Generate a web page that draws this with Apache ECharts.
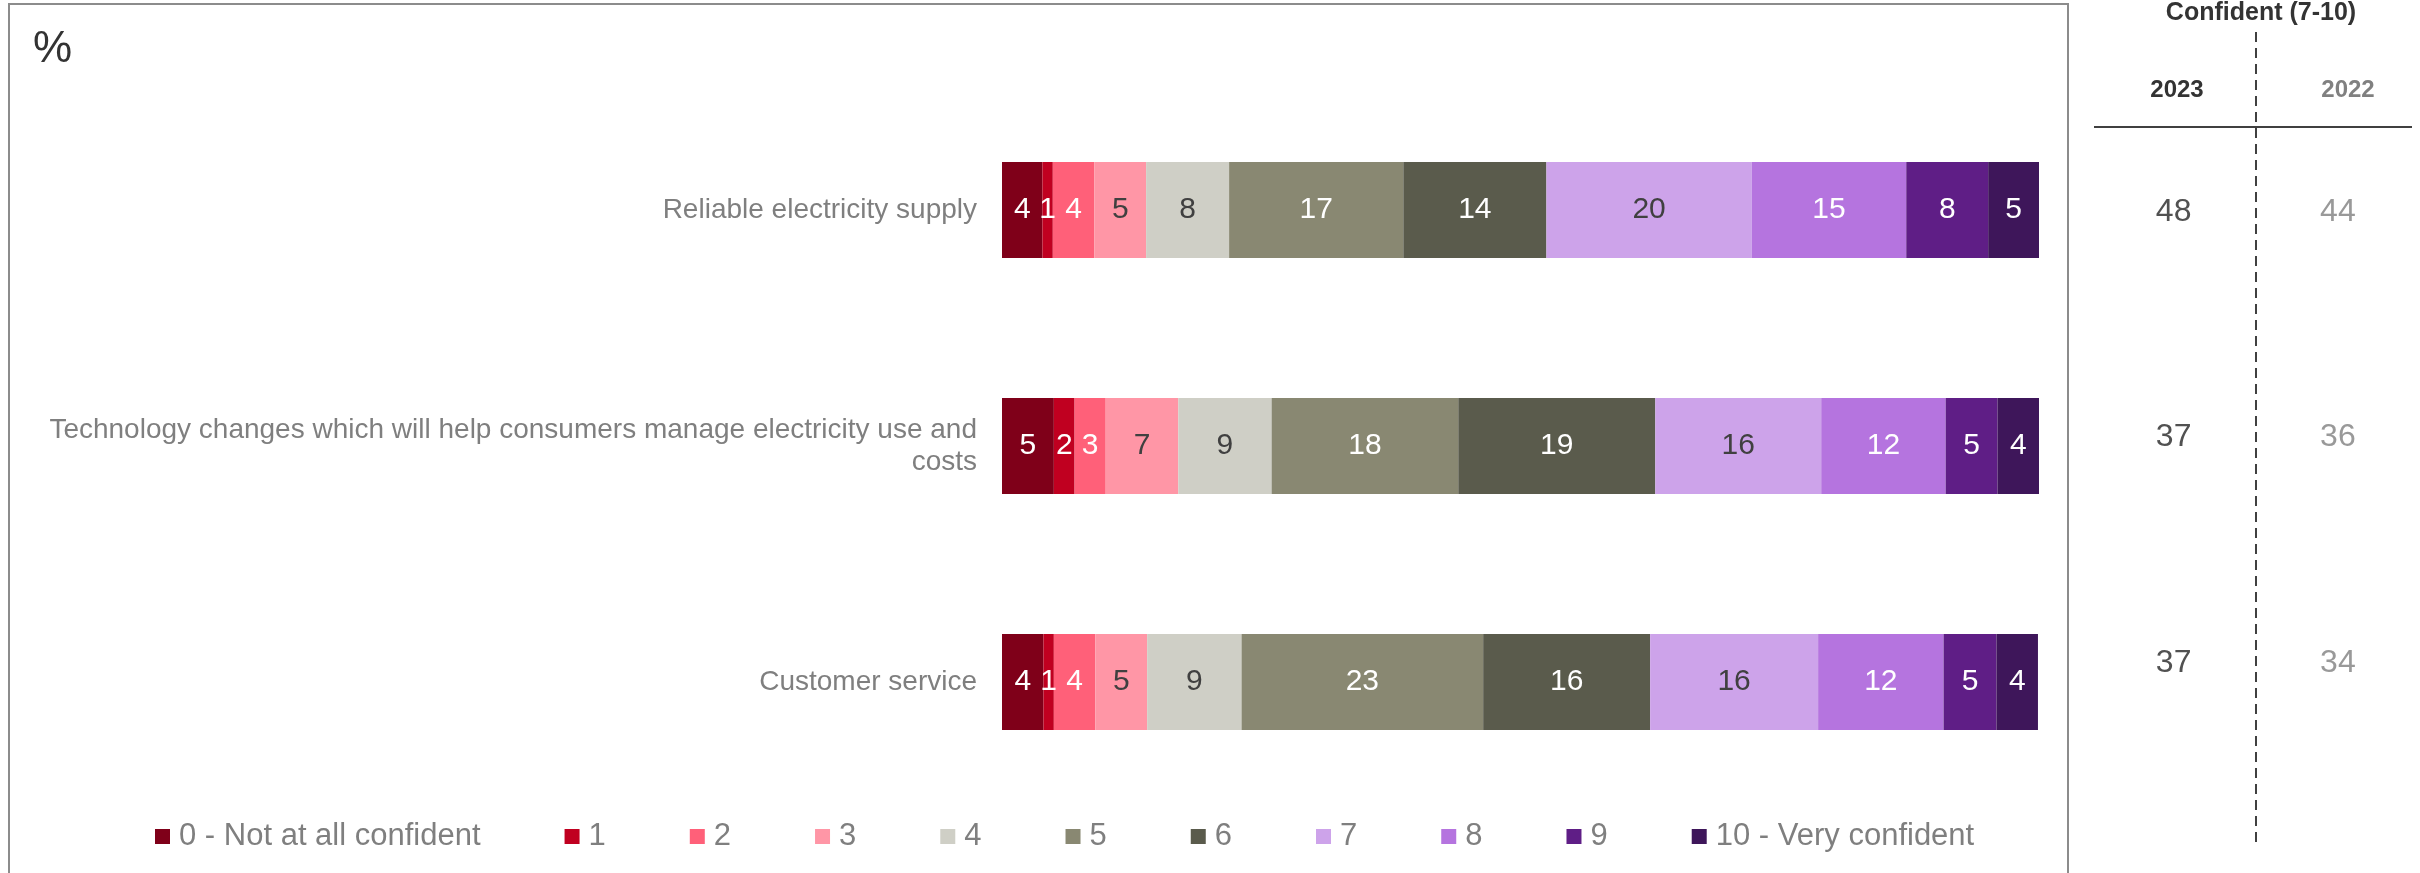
<!DOCTYPE html>
<html>
<head>
<meta charset="utf-8">
<script src="https://cdn.jsdelivr.net/npm/echarts/dist/echarts.min.js"></script>
<style>
  html, body { margin: 0; padding: 0; background: #fff; }
  #main { width: 2420px; height: 873px; }
</style>
</head>
<body>
<div id="main"></div>
<script>
// data
var categories = ['Reliable electricity supply', 'Technology changes which will help consumers manage electricity use and costs', 'Customer service'];
var scoreNames = ['0 - Not at all confident', '1', '2', '3', '4', '5', '6', '7', '8', '9', '10 - Very confident'];
var reliableSupply  = [3.9, 1.0, 4.0, 5.0, 8.0, 16.8, 13.8, 19.8, 14.9, 7.9, 4.9];
var techChanges     = [5.0, 2.0, 3.0, 7.0, 9.0, 18.0, 19.0, 16.0, 12.0, 5.0, 4.0];
var customerService = [4.0, 1.0, 4.0, 5.0, 9.1, 23.3, 16.1, 16.2, 12.1, 5.1, 4.0];
var yearLabels = ['2023', '2022'];
var confident2023 = [48, 37, 37];
var confident2022 = [44, 36, 34];

var scoreColors = ['#7f0019', '#c00020', '#ff6079', '#ff96a6', '#cfcfc6', '#898872', '#5a5b4c', '#cda3ea', '#b574df', '#5f1e86', '#3e165a'];
var darkText = [3, 4, 7]; // light segments get dark labels

var font = '"Liberation Sans", Arial, sans-serif';
var myChart = echarts.init(document.getElementById('main'));

var barSeries = scoreNames.map(function (name, i) {
    return {
        name: name,
        type: 'bar',
        stack: 'total',
        barWidth: 96,
        xAxisIndex: 0,
        yAxisIndex: 0,
        itemStyle: { color: scoreColors[i] },
        label: {
            show: true,
            position: 'inside',
            fontFamily: font,
            fontSize: 30,
            color: darkText.indexOf(i) >= 0 ? '#404040' : '#ffffff',
            formatter: function (p) { return Math.round(p.value); }
        },
        data: [reliableSupply[i], techChanges[i], customerService[i]]
    };
});

function tableSeries(year, values, color) {
    return {
        name: 'Confident ' + year,
        type: 'scatter',
        xAxisIndex: 1,
        yAxisIndex: 1,
        symbolSize: 1,
        itemStyle: { color: 'rgba(0,0,0,0)' },
        label: {
            show: true,
            position: 'inside',
            fontFamily: font,
            fontSize: 32,
            color: color,
            formatter: function (p) { return p.value[2]; }
        },
        data: values.map(function (v, i) { return [year, categories[i], v]; })
    };
}

var option = {
    animation: false,
    backgroundColor: '#ffffff',
    legend: {
        data: scoreNames,
        left: 150,
        top: 816,
        itemWidth: 15,
        itemHeight: 15,
        itemGap: 84,
        icon: 'rect',
        textStyle: { fontFamily: font, fontSize: 31, color: '#7f7f7f', padding: [0, 0, 0, 4] }
    },
    grid: [
        { left: 1002, right: 381, top: 92, height: 708 },
        { left: 2091.5, width: 342, top: 99, height: 676.5 }
    ],
    xAxis: [
        { type: 'value', gridIndex: 0, min: 0, max: 100, show: false },
        { type: 'category', gridIndex: 1, data: yearLabels, show: false }
    ],
    yAxis: [
        {
            type: 'category',
            gridIndex: 0,
            inverse: true,
            data: categories,
            axisLine: { show: false },
            axisTick: { show: false },
            axisLabel: {
                margin: 25,
                fontFamily: font,
                fontSize: 28,
                color: '#7f7f7f',
                width: 935,
                overflow: 'break',
                lineHeight: 32,
                align: 'right'
            }
        },
        { type: 'category', gridIndex: 1, inverse: true, data: categories, show: false }
    ],
    graphic: [
        { type: 'rect', silent: true, shape: { x: 9, y: 4, width: 2059, height: 900 }, style: { fill: 'none', stroke: '#8c8c8c', lineWidth: 2 } },
        { type: 'text', left: 33, top: 28, style: { text: '%', fontFamily: font, fontSize: 44, fill: '#333333' } },
        { type: 'text', x: 2261, y: 13, style: { text: 'Confident (7-10)', fontFamily: font, fontSize: 25, fontWeight: 'bold', fill: '#333333', textAlign: 'center', textVerticalAlign: 'middle' } },
        { type: 'text', x: 2177, y: 90, style: { text: yearLabels[0], fontFamily: font, fontSize: 24, fontWeight: 'bold', fill: '#333333', textAlign: 'center', textVerticalAlign: 'middle' } },
        { type: 'text', x: 2348, y: 90, style: { text: yearLabels[1], fontFamily: font, fontSize: 24, fontWeight: 'bold', fill: '#808080', textAlign: 'center', textVerticalAlign: 'middle' } },
        { type: 'line', silent: true, shape: { x1: 2094, y1: 127, x2: 2412, y2: 127 }, style: { stroke: '#404040', lineWidth: 2 } },
        { type: 'line', silent: true, shape: { x1: 2256, y1: 32, x2: 2256, y2: 846 }, style: { stroke: '#404040', lineWidth: 2, lineDash: [10, 6] } }
    ],
    series: barSeries.concat([
        tableSeries(yearLabels[0], confident2023, '#262626'),
        tableSeries(yearLabels[1], confident2022, '#808080')
    ])
};

myChart.setOption(option);
</script>
</body>
</html>
